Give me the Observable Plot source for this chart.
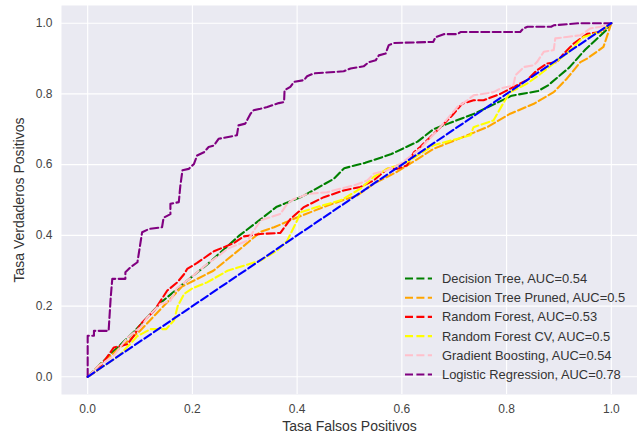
<!DOCTYPE html>
<html>
<head>
<meta charset="utf-8">
<script src="https://cdn.jsdelivr.net/npm/d3@7"></script>
<script src="https://cdn.jsdelivr.net/npm/@observablehq/plot@0.6"></script>
<style>
  html, body { margin: 0; padding: 0; background: #ffffff; }
  #chart svg { display: block; }
</style>
</head>
<body>
<div id="chart"></div>
<script>
// ---- Data ----
const modelNames = [
  "Decision Tree, AUC=0.54",
  "Decision Tree Pruned, AUC=0.5",
  "Random Forest, AUC=0.53",
  "Random Forest CV, AUC=0.5",
  "Gradient Boosting, AUC=0.54",
  "Logistic Regression, AUC=0.78"
];
const modelColors = ["green", "orange", "red", "yellow", "pink", "purple"];

const xTicks = [0, 0.2, 0.4, 0.6, 0.8, 1.0];
const yTicks = [0, 0.2, 0.4, 0.6, 0.8, 1.0];
const xLabel = "Tasa Falsos Positivos";
const yLabel = "Tasa Verdaderos Positivos";

// [FPR, TPR]
const decisionTree = [[0,0],[0.02,0.03],[0.09,0.13],[0.14,0.21],[0.18,0.26],[0.23,0.32],[0.29,0.40],[0.33,0.445],[0.36,0.48],[0.41,0.51],[0.47,0.56],[0.49,0.59],[0.53,0.605],[0.58,0.63],[0.63,0.665],[0.66,0.70],[0.74,0.745],[0.81,0.795],[0.86,0.808],[0.88,0.825],[0.92,0.875],[0.95,0.925],[0.99,0.98],[1,1]];

const decisionTreePruned = [[0,0],[0.02,0.03],[0.1,0.13],[0.18,0.255],[0.24,0.30],[0.29,0.36],[0.33,0.41],[0.356,0.423],[0.394,0.447],[0.457,0.484],[0.515,0.513],[0.546,0.546],[0.591,0.58],[0.629,0.615],[0.661,0.645],[0.725,0.683],[0.763,0.706],[0.807,0.744],[0.852,0.772],[0.89,0.805],[0.915,0.843],[0.941,0.89],[0.954,0.90],[0.985,0.933],[0.99,0.955],[1,1]];

const randomForest = [[0,0],[0.02,0.02],[0.05,0.083],[0.076,0.092],[0.088,0.116],[0.101,0.149],[0.114,0.168],[0.127,0.187],[0.152,0.244],[0.171,0.267],[0.184,0.29],[0.19,0.305],[0.209,0.322],[0.241,0.355],[0.279,0.378],[0.298,0.397],[0.33,0.404],[0.368,0.407],[0.387,0.446],[0.413,0.48],[0.451,0.508],[0.489,0.527],[0.521,0.537],[0.546,0.555],[0.572,0.588],[0.591,0.588],[0.61,0.598],[0.623,0.635],[0.635,0.65],[0.674,0.706],[0.696,0.739],[0.715,0.772],[0.737,0.782],[0.756,0.782],[0.788,0.80],[0.807,0.815],[0.839,0.839],[0.858,0.867],[0.877,0.886],[0.896,0.89],[0.909,0.914],[0.928,0.942],[0.954,0.97],[0.98,0.975],[1,1]];

const randomForestCV = [[0,0],[0.03,0.03],[0.06,0.06],[0.095,0.115],[0.12,0.135],[0.15,0.135],[0.165,0.16],[0.172,0.2],[0.184,0.234],[0.2,0.25],[0.228,0.267],[0.267,0.30],[0.298,0.314],[0.33,0.329],[0.362,0.357],[0.381,0.385],[0.40,0.442],[0.406,0.465],[0.438,0.48],[0.483,0.499],[0.521,0.532],[0.546,0.565],[0.572,0.588],[0.61,0.607],[0.661,0.655],[0.731,0.683],[0.737,0.706],[0.775,0.725],[0.795,0.777],[0.807,0.805],[0.839,0.829],[0.865,0.857],[0.89,0.886],[0.915,0.914],[0.947,0.961],[0.979,0.975],[1,1]];

const gradientBoosting = [[0,0],[0.02,0.03],[0.05,0.06],[0.076,0.111],[0.101,0.14],[0.114,0.168],[0.139,0.206],[0.158,0.215],[0.17,0.25],[0.19,0.272],[0.228,0.319],[0.254,0.347],[0.267,0.362],[0.305,0.385],[0.33,0.442],[0.368,0.461],[0.381,0.489],[0.394,0.503],[0.406,0.508],[0.419,0.517],[0.457,0.522],[0.483,0.532],[0.508,0.541],[0.534,0.555],[0.546,0.574],[0.572,0.584],[0.597,0.602],[0.623,0.631],[0.635,0.645],[0.67,0.70],[0.706,0.763],[0.725,0.782],[0.737,0.796],[0.775,0.805],[0.788,0.815],[0.813,0.824],[0.817,0.853],[0.833,0.876],[0.852,0.881],[0.858,0.89],[0.871,0.919],[0.89,0.924],[0.893,0.957],[0.915,0.961],[0.941,0.966],[0.96,0.985],[0.979,0.99],[1,1]];

const logisticRegression = [[0,0],[0,0.116],[0.012,0.116],[0.012,0.13],[0.04,0.13],[0.044,0.225],[0.047,0.277],[0.072,0.277],[0.072,0.296],[0.082,0.31],[0.095,0.324],[0.104,0.409],[0.117,0.418],[0.142,0.423],[0.145,0.45],[0.158,0.46],[0.158,0.489],[0.174,0.494],[0.177,0.541],[0.181,0.584],[0.193,0.588],[0.203,0.602],[0.209,0.626],[0.222,0.635],[0.231,0.65],[0.241,0.654],[0.25,0.673],[0.285,0.683],[0.288,0.711],[0.301,0.716],[0.311,0.744],[0.317,0.754],[0.33,0.758],[0.343,0.763],[0.365,0.774],[0.375,0.777],[0.376,0.81],[0.387,0.82],[0.394,0.834],[0.413,0.839],[0.419,0.85],[0.432,0.858],[0.489,0.864],[0.502,0.872],[0.527,0.878],[0.537,0.89],[0.55,0.895],[0.556,0.909],[0.569,0.914],[0.575,0.938],[0.585,0.944],[0.66,0.947],[0.664,0.96],[0.68,0.969],[0.706,0.969],[0.712,0.975],[0.826,0.975],[0.832,0.985],[0.84,0.99],[0.885,0.99],[0.89,0.994],[0.94,1.0],[1,1]];

const chanceLine = [[0,0],[1,1]];
const chanceColor = "blue";

// ---- Build table ----
const curves = [decisionTree, decisionTreePruned, randomForest, randomForestCV, gradientBoosting, logisticRegression];
const rows = [];
curves.forEach((pts, i) => pts.forEach(([fpr, tpr]) => rows.push({model: modelNames[i], fpr, tpr})));
const chanceRows = chanceLine.map(([fpr, tpr]) => ({fpr, tpr}));

const fmt = d3.format(".1f");
const dash = "8,3.4";
const fontFamily = "'Liberation Sans', Arial, sans-serif";

const chart = Plot.plot({
  width: 637,
  height: 433,
  marginLeft: 61,
  marginRight: 0,
  marginTop: 5,
  marginBottom: 39,
  style: {background: "#ffffff", fontFamily, fontSize: "12px", color: "#262626"},
  x: {domain: [-0.05, 1.05]},
  y: {domain: [-0.05, 1.05]},
  color: {domain: modelNames, range: modelColors},
  marks: [
    Plot.frame({fill: "#EAEAF2", stroke: "none"}),
    Plot.gridX(xTicks, {stroke: "#ffffff", strokeOpacity: 1, strokeWidth: 1.1}),
    Plot.gridY(yTicks, {stroke: "#ffffff", strokeOpacity: 1, strokeWidth: 1.1}),
    Plot.axisX(xTicks, {tickSize: 0, tickPadding: 10, tickFormat: fmt, label: null, fill: "#444", fontSize: 12}),
    Plot.axisY(yTicks, {tickSize: 0, tickPadding: 9, tickFormat: fmt, label: null, fill: "#444", fontSize: 12}),
    Plot.line(rows, {x: "fpr", y: "tpr", z: "model", stroke: "model", strokeWidth: 2.1, strokeDasharray: dash, strokeLinejoin: "round"}),
    Plot.line(chanceRows, {x: "fpr", y: "tpr", stroke: chanceColor, strokeWidth: 2.1, strokeDasharray: dash}),
    Plot.text([xLabel], {frameAnchor: "bottom", dy: 32, lineAnchor: "middle", fontSize: 14, fill: "#333"}),
    Plot.text([yLabel], {frameAnchor: "left", dx: -42, rotate: -90, lineAnchor: "middle", textAnchor: "middle", fontSize: 14, fill: "#333"})
  ]
});

// ---- Legend (inside plot, lower right) ----
const svg = d3.select(chart);
const leg = svg.append("g")
  .attr("font-family", fontFamily)
  .attr("font-size", 12.9)
  .attr("text-anchor", "start");
modelNames.forEach((name, i) => {
  const yy = 278.5 + i * 19.2;
  leg.append("line")
    .attr("x1", 405).attr("x2", 432).attr("y1", yy).attr("y2", yy)
    .attr("stroke", modelColors[i]).attr("stroke-width", 2.1).attr("stroke-dasharray", dash);
  leg.append("text")
    .attr("x", 442).attr("y", yy).attr("dy", "0.35em")
    .attr("text-anchor", "start")
    .attr("fill", "#333").text(name);
});

document.getElementById("chart").appendChild(chart);
</script>
</body>
</html>
